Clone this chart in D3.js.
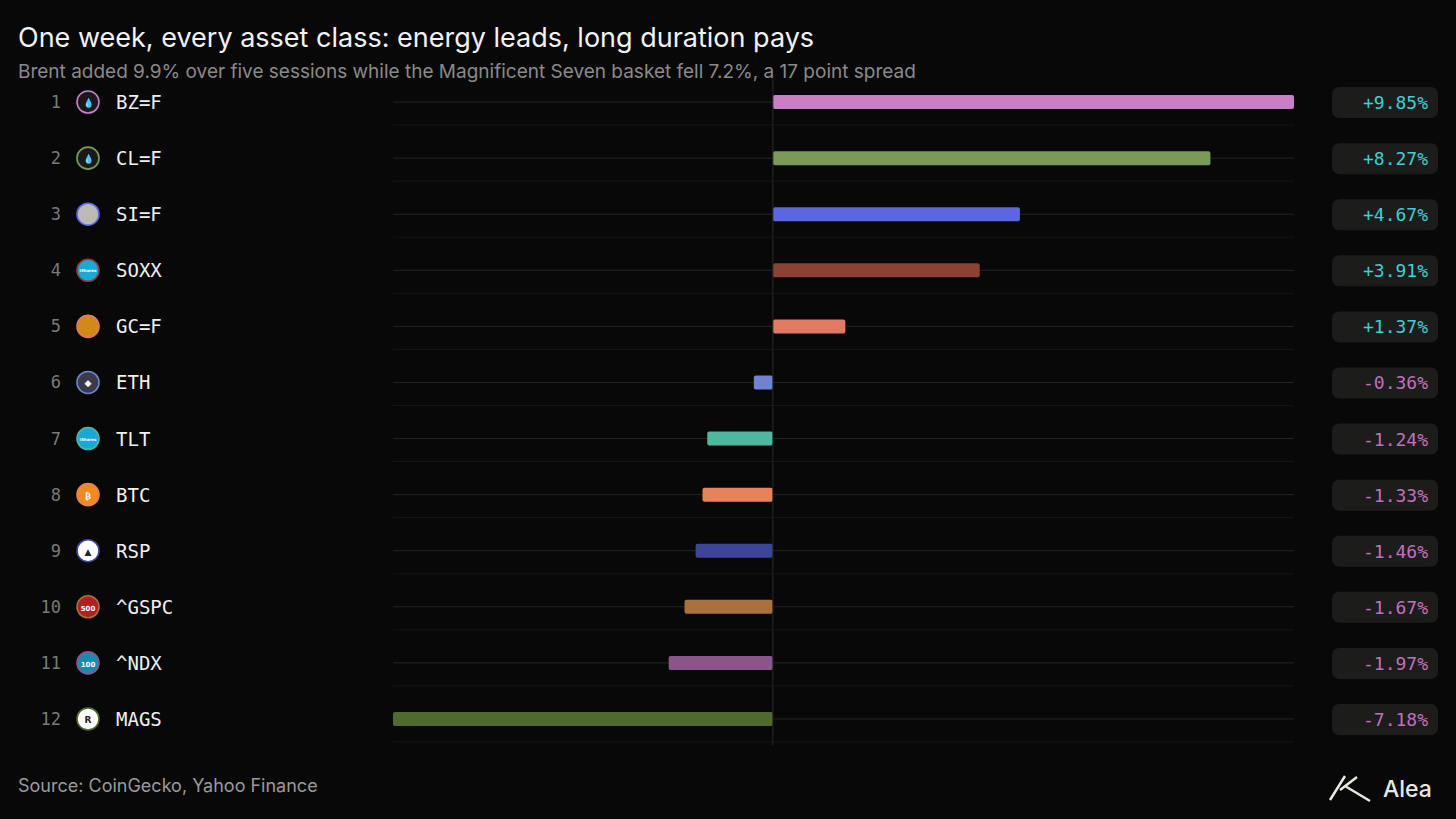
<!DOCTYPE html>
<html><head><meta charset="utf-8">
<script src="https://cdn.jsdelivr.net/npm/d3@7"></script>
<style>body{margin:0;background:#080808}</style></head>
<body><svg id="c" width="1456" height="819"></svg>
<script>
const tickers = ["BZ=F","CL=F","SI=F","SOXX","GC=F","ETH","TLT","BTC","RSP","^GSPC","^NDX","MAGS"];
const returns = [9.85,8.27,4.67,3.91,1.37,-0.36,-1.24,-1.33,-1.46,-1.67,-1.97,-7.18];
const colors = ["#c97fc6","#7a9a55","#5b66e0","#8a4235","#e07b62","#7083d0","#4db8a0","#e8825a","#3d4596","#a8703a","#8a558a","#4e6a2c"];
const iconFill = ["#1a1a1a","#1a1a1a","#bdbab5","#1aa8d8","#d08a18","#3a3a4a","#1aa8d8","#f08a20","#ffffff","#b02020","#1a8ab0","#ffffff"];
const iconText = ["💧","💧","","iShares","","◆","iShares","₿","▲","500","100","R"];

const svg = d3.select("#c");
svg.append("rect").attr("width",1456).attr("height",819).attr("fill","#080808");
svg.append("text").attr("x",18).attr("y",47).attr("fill","#f2f2f2").attr("font-family","Inter").attr("font-size",27)
  .text("One week, every asset class: energy leads, long duration pays");
svg.append("text").attr("x",18).attr("y",78).attr("fill","#8a8a8a").attr("font-family","Inter").attr("font-size",19)
  .text("Brent added 9.9% over five sessions while the Magnificent Seven basket fell 7.2%, a 17 point spread");

const x = d3.scaleLinear().domain([d3.min(returns), d3.max(returns)]).range([393,1294]);
const y = d3.scaleBand().domain(tickers).range([74,747]);
const cy = d => y(d) + y.bandwidth()/2;

const g = svg.append("g");
tickers.forEach((t,i) => {
  const c = cy(t);
  g.append("line").attr("x1",393).attr("x2",1294).attr("y1",c).attr("y2",c).attr("stroke","#242424");
  g.append("line").attr("x1",393).attr("x2",1294).attr("y1",c+23).attr("y2",c+23).attr("stroke","#151515");
  g.append("text").attr("x",61).attr("y",c+6).attr("text-anchor","end").attr("fill","#7a7a7a")
    .attr("font-family","DejaVu Sans Mono").attr("font-size",17).text(i+1);
  g.append("circle").attr("cx",88).attr("cy",c).attr("r",11).attr("fill",iconFill[i]).attr("stroke",colors[i]).attr("stroke-width",1.6);
  g.append("text").attr("x",88).attr("y",c+(iconText[i].length>3?2:4)).attr("text-anchor","middle")
    .attr("fill", iconFill[i]==="#ffffff"?"#222":"#fff").attr("font-family","DejaVu Sans")
    .attr("font-size",iconText[i].length>3?4:iconText[i].length==3?7:9).attr("font-weight","bold").text(iconText[i]);
  g.append("text").attr("x",116).attr("y",c+7).attr("fill","#f0f0f0")
    .attr("font-family","DejaVu Sans Mono").attr("font-size",19).text(t);
  const v = returns[i];
  g.append("rect").attr("x",x(Math.min(0,v))).attr("width",Math.abs(x(v)-x(0))).attr("y",c-7).attr("height",14)
    .attr("rx",2).attr("fill",colors[i]);
  g.append("rect").attr("x",1332).attr("y",c-15).attr("width",106).attr("height",31).attr("rx",7).attr("fill","#1c1c1a");
  g.append("text").attr("x",1428).attr("y",c+7).attr("text-anchor","end").attr("fill",v>0?"#3ecfd6":"#c070c0")
    .attr("font-family","DejaVu Sans Mono").attr("font-size",18).text((v>0?"+":"")+v.toFixed(2)+"%");
});
g.append("line").attr("x1",x(0)).attr("x2",x(0)).attr("y1",78).attr("y2",745).attr("stroke","#2a2a2a");

svg.append("text").attr("x",18).attr("y",792).attr("fill","#9a9a9a").attr("font-family","Inter").attr("font-size",18)
  .text("Source: CoinGecko, Yahoo Finance");
svg.append("path").attr("d","M1330,800 L1345,776 M1340,790 L1357,777 M1345,786 L1370,801").attr("stroke","#e8e8e0")
  .attr("stroke-width",2.5).attr("fill","none");
svg.append("text").attr("x",1383).attr("y",797).attr("fill","#e8e8e0").attr("font-family","Inter").attr("font-size",23).attr("font-weight",500).text("Alea");
</script></body></html>
